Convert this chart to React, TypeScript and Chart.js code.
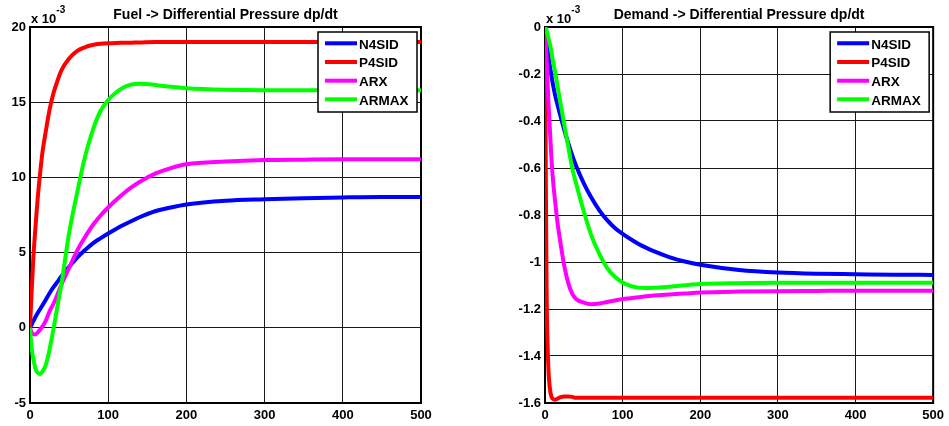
import React, { useEffect, useRef } from "react";
import { Chart, registerables } from "chart.js";
Chart.register(...registerables);

const FONT = 'Arial, "Liberation Sans", Helvetica, sans-serif';

// shared sample times
const T = [0, 1, 2, 4, 6, 8, 10, 13, 16, 20, 25, 30, 35, 40, 50, 60, 70, 80, 90, 100, 110, 120, 130, 140, 160, 180, 200, 250, 300, 350, 400, 450, 500];

const seriesNames = ["N4SID", "P4SID", "ARX", "ARMAX"];
const seriesColors = ["#0000ff", "#ff0000", "#ff00ff", "#00ff00"];

const xTicks = [0, 100, 200, 300, 400, 500];

// Left panel: Fuel -> Differential Pressure dp/dt (x 10^-3)
const fuelTitle = "Fuel -> Differential Pressure dp/dt";
const fuelYTicks = [-5, 0, 5, 10, 15, 20];
const fuelN4SID = [0, 0.1, 0.2, 0.42, 0.62, 0.82, 1.0, 1.25, 1.5, 1.85, 2.3, 2.7, 3.05, 3.42, 4.05, 4.65, 5.15, 5.6, 5.95, 6.27, 6.57, 6.85, 7.1, 7.35, 7.75, 8.0, 8.2, 8.45, 8.55, 8.62, 8.67, 8.7, 8.7];
const fuelP4SID = [0, 1.2, 2.3, 4.4, 6.0, 7.4, 8.7, 10.3, 11.7, 13.0, 14.5, 15.6, 16.4, 17.1, 17.9, 18.4, 18.65, 18.8, 18.88, 18.92, 18.94, 18.95, 18.96, 18.97, 19.0, 19.0, 19.0, 19.0, 19.0, 19.0, 19.0, 19.0, 19.0];
const fuelARX = [0, -0.17, -0.3, -0.42, -0.45, -0.4, -0.3, -0.12, 0.1, 0.45, 1.1, 1.6, 2.2, 2.85, 3.98, 5.1, 6.0, 6.8, 7.45, 8.0, 8.5, 8.95, 9.35, 9.7, 10.25, 10.62, 10.87, 11.05, 11.15, 11.18, 11.2, 11.2, 11.2];
const fuelARMAX = [0, -0.7, -1.3, -2.0, -2.5, -2.85, -3.0, -3.07, -2.9, -2.5, -1.45, -0.08, 1.4, 2.85, 6.3, 8.9, 11.3, 13.1, 14.4, 15.15, 15.65, 16.0, 16.18, 16.22, 16.15, 16.02, 15.93, 15.83, 15.8, 15.8, 15.8, 15.8, 15.8];

// Right panel: Demand -> Differential Pressure dp/dt (x 10^-3)
const demandTitle = "Demand -> Differential Pressure dp/dt";
const demandYTicks = [-1.6, -1.4, -1.2, -1.0, -0.8, -0.6, -0.4, -0.2, 0];
const demandN4SID = [0, -0.03, -0.06, -0.115, -0.16, -0.2, -0.24, -0.29, -0.33, -0.38, -0.44, -0.495, -0.545, -0.59, -0.665, -0.728, -0.78, -0.822, -0.855, -0.88, -0.902, -0.922, -0.939, -0.954, -0.979, -0.998, -1.012, -1.034, -1.045, -1.05, -1.052, -1.054, -1.055];
const demandP4SID = [0, -0.6, -1.1, -1.42, -1.53, -1.57, -1.582, -1.586, -1.582, -1.575, -1.572, -1.572, -1.574, -1.578, -1.578, -1.578, -1.578, -1.578, -1.578, -1.578, -1.578, -1.578, -1.578, -1.578, -1.578, -1.578, -1.578, -1.578, -1.578, -1.578, -1.578, -1.578, -1.578];
const demandARX = [0, -0.06, -0.13, -0.29, -0.42, -0.54, -0.64, -0.74, -0.83, -0.92, -1.02, -1.09, -1.135, -1.157, -1.173, -1.18, -1.177, -1.17, -1.164, -1.158, -1.154, -1.15, -1.146, -1.143, -1.138, -1.134, -1.13, -1.126, -1.124, -1.123, -1.122, -1.122, -1.122];
const demandARMAX = [0, -0.006, -0.015, -0.04, -0.068, -0.1, -0.14, -0.19, -0.248, -0.325, -0.42, -0.51, -0.6, -0.665, -0.785, -0.89, -0.965, -1.025, -1.063, -1.087, -1.102, -1.109, -1.111, -1.11, -1.105, -1.099, -1.094, -1.09, -1.088, -1.088, -1.088, -1.088, -1.088];

type Panel = {
  title: string;
  yTicks: number[];
  series: number[][];
};

const fuelPanel: Panel = { title: fuelTitle, yTicks: fuelYTicks, series: [fuelN4SID, fuelP4SID, fuelARX, fuelARMAX] };
const demandPanel: Panel = { title: demandTitle, yTicks: demandYTicks, series: [demandN4SID, demandP4SID, demandARX, demandARMAX] };

const fmt = (v: number) => String(Math.round(v * 10) / 10);

const decorPlugin = {
  id: "decor",
  beforeDatasetsDraw(chart: any) {
    const { ctx, chartArea: a } = chart;
    ctx.save();
    ctx.strokeStyle = "#000";
    ctx.lineWidth = 2;
    ctx.strokeRect(a.left, a.top, a.right - a.left, a.bottom - a.top);
    ctx.restore();
  },
  afterDraw(chart: any, _args: any, opts: any) {
    const { ctx, chartArea: a } = chart;
    ctx.save();
    ctx.fillStyle = "#000";
    // title
    ctx.font = `bold 14px ${FONT}`;
    ctx.textAlign = "center";
    ctx.textBaseline = "alphabetic";
    ctx.fillText(opts.title, (a.left + a.right) / 2, 18.5);
    // exponent
    ctx.textAlign = "left";
    ctx.font = `bold 13px ${FONT}`;
    const base = "x 10";
    ctx.fillText(base, a.left + 1, 23);
    const w = ctx.measureText(base).width;
    ctx.font = `bold 10px ${FONT}`;
    ctx.fillText("-3", a.left + 1 + w, 13);
    // legend
    const bw = 99, bh = 80;
    const bx = a.right - 4 - bw;
    const by = a.top + 5;
    ctx.fillStyle = "#fff";
    ctx.fillRect(bx, by, bw, bh);
    ctx.strokeStyle = "#000";
    ctx.lineWidth = 1.5;
    ctx.strokeRect(bx, by, bw, bh);
    const rows = [11.3, 30, 48.7, 67.3];
    ctx.font = `bold 13.5px ${FONT}`;
    ctx.textBaseline = "middle";
    seriesNames.forEach((name, i) => {
      const y = by + rows[i];
      ctx.strokeStyle = seriesColors[i];
      ctx.lineWidth = 4;
      ctx.beginPath();
      ctx.moveTo(bx + 7, y);
      ctx.lineTo(bx + 39, y);
      ctx.stroke();
      ctx.fillStyle = "#000";
      ctx.fillText(name, bx + 41, y + 1.5);
    });
    ctx.restore();
  },
};

function build(canvas: HTMLCanvasElement, panel: Panel, axisW: number, padRight: number) {
  const datasets = panel.series.map((vals, i) => ({
    label: seriesNames[i],
    data: T.map((t, k) => ({ x: t, y: vals[k] })),
    borderColor: seriesColors[i],
    backgroundColor: seriesColors[i],
    borderWidth: 4,
    pointRadius: 0,
    fill: false,
    cubicInterpolationMode: "monotone" as const,
    order: 3 - i,
  }));
  const yMin = Math.min(...panel.yTicks);
  const yMax = Math.max(...panel.yTicks);
  const tickFont = { family: FONT, size: 13, weight: "bold" as const };
  return new Chart(canvas, {
    type: "line",
    data: { datasets },
    plugins: [decorPlugin],
    options: {
      responsive: false,
      animation: false,
      layout: { padding: { top: 27, right: padRight, left: 0, bottom: 0 } },
      plugins: {
        legend: { display: false },
        title: { display: false },
        tooltip: { enabled: false },
        // @ts-ignore
        decor: { title: panel.title },
      },
      scales: {
        x: {
          type: "linear",
          min: 0,
          max: 500,
          afterBuildTicks: (s: any) => {
            s.ticks = xTicks.map((v) => ({ value: v }));
          },
          afterFit: (s: any) => {
            s.height = 23;
          },
          grid: { color: "#1a1a1a", lineWidth: 1, drawTicks: false },
          border: { display: false },
          ticks: { padding: 5, font: tickFont, color: "#000", maxRotation: 0, autoSkip: false, callback: (v: any) => fmt(Number(v)) },
        },
        y: {
          type: "linear",
          min: yMin,
          max: yMax,
          afterBuildTicks: (s: any) => {
            s.ticks = panel.yTicks.map((v) => ({ value: v }));
          },
          afterFit: (s: any) => {
            s.width = axisW;
          },
          grid: { color: "#1a1a1a", lineWidth: 1, drawTicks: false },
          border: { display: false },
          ticks: { padding: 4, font: tickFont, color: "#000", autoSkip: false, callback: (v: any) => fmt(Number(v)) },
        },
      },
    },
  } as any);
}

export default function App() {
  const leftRef = useRef<HTMLCanvasElement>(null);
  const rightRef = useRef<HTMLCanvasElement>(null);
  useEffect(() => {
    const c1 = build(leftRef.current!, fuelPanel, 30, 53);
    const c2 = build(rightRef.current!, demandPanel, 71, 12);
    return () => {
      c1.destroy();
      c2.destroy();
    };
  }, []);
  return (
    <div style={{ position: "absolute", left: 0, top: 0, width: 949, height: 426, background: "#fff" }}>
      <canvas ref={leftRef} width={474} height={426} style={{ position: "absolute", left: 0, top: 0, width: 474, height: 426 }} />
      <canvas ref={rightRef} width={475} height={426} style={{ position: "absolute", left: 474, top: 0, width: 475, height: 426 }} />
    </div>
  );
}
